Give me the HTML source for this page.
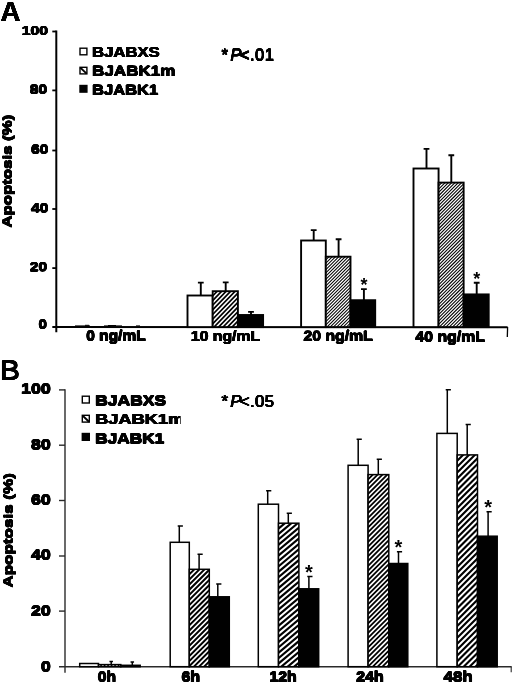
<!DOCTYPE html>
<html><head><meta charset="utf-8"><title>Figure</title>
<style>
html,body{margin:0;padding:0;background:#fff;}
body{width:520px;height:685px;overflow:hidden;}
svg{display:block;font-family:"Liberation Sans",sans-serif;}
text{fill:#000;}
</style></head><body>
<svg width="520" height="685" viewBox="0 0 520 685">
<defs>
</defs>
<rect width="520" height="685" fill="#fff"/>
<g opacity="0.999">

<g id="panelA">
<text id="t1" x="0.5" y="21.0" font-size="27.6" font-weight="bold" text-anchor="start" >A</text>
<use href="#t1" x="0.15" y="0.00"/>
<use href="#t1" x="0.11" y="0.11"/>
<use href="#t1" x="0.00" y="0.15"/>
<use href="#t1" x="-0.11" y="0.11"/>
<use href="#t1" x="-0.15" y="0.00"/>
<use href="#t1" x="-0.11" y="-0.11"/>
<use href="#t1" x="-0.00" y="-0.15"/>
<use href="#t1" x="0.11" y="-0.11"/>
<path d="M56.3 30.6V332.3" stroke="#000" stroke-width="2.0" fill="none"/>
<path d="M52.3 326.9L507.6 327.29999999999995" stroke="#000" stroke-width="2.0" fill="none"/>
<path d="M507.6 326.9L507.3 337" stroke="#000" stroke-width="1.3" fill="none"/>
<path d="M52.3 31.5H56.3" stroke="#000" stroke-width="1.8"/>
<text id="t2" x="21.7" y="35.1" font-size="13.2" font-weight="bold" text-anchor="start" textLength="26.4" lengthAdjust="spacingAndGlyphs" >100</text>
<use href="#t2" x="0.40" y="0.00"/>
<use href="#t2" x="0.28" y="0.28"/>
<use href="#t2" x="0.00" y="0.40"/>
<use href="#t2" x="-0.28" y="0.28"/>
<use href="#t2" x="-0.40" y="0.00"/>
<use href="#t2" x="-0.28" y="-0.28"/>
<use href="#t2" x="-0.00" y="-0.40"/>
<use href="#t2" x="0.28" y="-0.28"/>
<path d="M52.3 90.4H56.3" stroke="#000" stroke-width="1.8"/>
<text id="t3" x="29.8" y="93.7" font-size="13.2" font-weight="bold" text-anchor="start" textLength="17.4" lengthAdjust="spacingAndGlyphs" >80</text>
<use href="#t3" x="0.40" y="0.00"/>
<use href="#t3" x="0.28" y="0.28"/>
<use href="#t3" x="0.00" y="0.40"/>
<use href="#t3" x="-0.28" y="0.28"/>
<use href="#t3" x="-0.40" y="0.00"/>
<use href="#t3" x="-0.28" y="-0.28"/>
<use href="#t3" x="-0.00" y="-0.40"/>
<use href="#t3" x="0.28" y="-0.28"/>
<path d="M52.3 150.5H56.3" stroke="#000" stroke-width="1.8"/>
<text id="t4" x="31.0" y="153.6" font-size="13.2" font-weight="bold" text-anchor="start" textLength="17.4" lengthAdjust="spacingAndGlyphs" >60</text>
<use href="#t4" x="0.40" y="0.00"/>
<use href="#t4" x="0.28" y="0.28"/>
<use href="#t4" x="0.00" y="0.40"/>
<use href="#t4" x="-0.28" y="0.28"/>
<use href="#t4" x="-0.40" y="0.00"/>
<use href="#t4" x="-0.28" y="-0.28"/>
<use href="#t4" x="-0.00" y="-0.40"/>
<use href="#t4" x="0.28" y="-0.28"/>
<path d="M52.3 209.0H56.3" stroke="#000" stroke-width="1.8"/>
<text id="t5" x="31.0" y="212.4" font-size="13.2" font-weight="bold" text-anchor="start" textLength="17.4" lengthAdjust="spacingAndGlyphs" >40</text>
<use href="#t5" x="0.40" y="0.00"/>
<use href="#t5" x="0.28" y="0.28"/>
<use href="#t5" x="0.00" y="0.40"/>
<use href="#t5" x="-0.28" y="0.28"/>
<use href="#t5" x="-0.40" y="0.00"/>
<use href="#t5" x="-0.28" y="-0.28"/>
<use href="#t5" x="-0.00" y="-0.40"/>
<use href="#t5" x="0.28" y="-0.28"/>
<path d="M52.3 268.1H56.3" stroke="#000" stroke-width="1.8"/>
<text id="t6" x="29.8" y="271.2" font-size="13.2" font-weight="bold" text-anchor="start" textLength="17.4" lengthAdjust="spacingAndGlyphs" >20</text>
<use href="#t6" x="0.40" y="0.00"/>
<use href="#t6" x="0.28" y="0.28"/>
<use href="#t6" x="0.00" y="0.40"/>
<use href="#t6" x="-0.28" y="0.28"/>
<use href="#t6" x="-0.40" y="0.00"/>
<use href="#t6" x="-0.28" y="-0.28"/>
<use href="#t6" x="-0.00" y="-0.40"/>
<use href="#t6" x="0.28" y="-0.28"/>
<text id="t7" x="38.6" y="328.5" font-size="13.2" font-weight="bold" text-anchor="start" textLength="8.4" lengthAdjust="spacingAndGlyphs" >0</text>
<use href="#t7" x="0.40" y="0.00"/>
<use href="#t7" x="0.28" y="0.28"/>
<use href="#t7" x="0.00" y="0.40"/>
<use href="#t7" x="-0.28" y="0.28"/>
<use href="#t7" x="-0.40" y="0.00"/>
<use href="#t7" x="-0.28" y="-0.28"/>
<use href="#t7" x="-0.00" y="-0.40"/>
<use href="#t7" x="0.28" y="-0.28"/>
<g transform="translate(11.5,227.6) rotate(-90)">
<text id="t8" x="0" y="0" font-size="12.8" font-weight="bold" text-anchor="start" textLength="112.8" lengthAdjust="spacingAndGlyphs" >Apoptosis (%)</text>
<use href="#t8" x="0.42" y="0.00"/>
<use href="#t8" x="0.30" y="0.30"/>
<use href="#t8" x="0.00" y="0.42"/>
<use href="#t8" x="-0.30" y="0.30"/>
<use href="#t8" x="-0.42" y="0.00"/>
<use href="#t8" x="-0.30" y="-0.30"/>
<use href="#t8" x="-0.00" y="-0.42"/>
<use href="#t8" x="0.30" y="-0.30"/>
</g>
<text id="t9" x="92.1" y="57.0" font-size="14.8" font-weight="bold" text-anchor="start" textLength="67.6" lengthAdjust="spacingAndGlyphs" >BJABXS</text>
<use href="#t9" x="0.40" y="0.00"/>
<use href="#t9" x="0.28" y="0.28"/>
<use href="#t9" x="0.00" y="0.40"/>
<use href="#t9" x="-0.28" y="0.28"/>
<use href="#t9" x="-0.40" y="0.00"/>
<use href="#t9" x="-0.28" y="-0.28"/>
<use href="#t9" x="-0.00" y="-0.40"/>
<use href="#t9" x="0.28" y="-0.28"/>
<rect x="80.0" y="48.2" width="6.9" height="6.6" fill="#fff" stroke="#000" stroke-width="1.4"/>
<text id="t10" x="92.1" y="75.8" font-size="14.8" font-weight="bold" text-anchor="start" textLength="83.3" lengthAdjust="spacingAndGlyphs" >BJABK1m</text>
<use href="#t10" x="0.40" y="0.00"/>
<use href="#t10" x="0.28" y="0.28"/>
<use href="#t10" x="0.00" y="0.40"/>
<use href="#t10" x="-0.28" y="0.28"/>
<use href="#t10" x="-0.40" y="0.00"/>
<use href="#t10" x="-0.28" y="-0.28"/>
<use href="#t10" x="-0.00" y="-0.40"/>
<use href="#t10" x="0.28" y="-0.28"/>
<rect x="80.0" y="67.3" width="6.9" height="6.6" fill="#fff" stroke="#000" stroke-width="1.4"/>
<path d="M80.3 67.6L86.6 73.6" stroke="#000" stroke-width="2"/>
<text id="t11" x="92.1" y="94.8" font-size="14.8" font-weight="bold" text-anchor="start" textLength="66.1" lengthAdjust="spacingAndGlyphs" >BJABK1</text>
<use href="#t11" x="0.40" y="0.00"/>
<use href="#t11" x="0.28" y="0.28"/>
<use href="#t11" x="0.00" y="0.40"/>
<use href="#t11" x="-0.28" y="0.28"/>
<use href="#t11" x="-0.40" y="0.00"/>
<use href="#t11" x="-0.28" y="-0.28"/>
<use href="#t11" x="-0.00" y="-0.40"/>
<use href="#t11" x="0.28" y="-0.28"/>
<rect x="80.0" y="85.5" width="6.9" height="6.6" fill="#000" stroke="#000" stroke-width="1.4"/>
<text id="t12" x="221.6" y="60.7" font-size="16.6" font-weight="normal" text-anchor="start" >*<tspan dx="2.3" font-style="italic">P</tspan><tspan dx="-1.6" letter-spacing="0.45">&lt;.01</tspan></text>
<use href="#t12" x="0.33" y="0.00"/>
<use href="#t12" x="0.23" y="0.23"/>
<use href="#t12" x="0.00" y="0.33"/>
<use href="#t12" x="-0.23" y="0.23"/>
<use href="#t12" x="-0.33" y="0.00"/>
<use href="#t12" x="-0.23" y="-0.23"/>
<use href="#t12" x="-0.00" y="-0.33"/>
<use href="#t12" x="0.23" y="-0.23"/>
<path d="M200.8 295.5V282M197.90 282.6H203.70" stroke="#000" stroke-width="1.9" fill="none"/>
<rect x="187.5" y="295.5" width="25.20" height="31.60" fill="#fff" stroke="#000" stroke-width="1.9"/>
<path d="M225.7 291.2V281.8M222.80 282.40000000000003H228.60" stroke="#000" stroke-width="1.9" fill="none"/>
<clipPath id="c1"><rect x="212.7" y="291.2" width="25.20" height="35.90"/></clipPath>
<rect x="212.7" y="291.2" width="25.20" height="35.90" fill="#fff"/>
<path clip-path="url(#c1)" d="M211.70 292.24L238.90 264.07M211.70 296.90L238.90 268.73M211.70 301.56L238.90 273.39M211.70 306.22L238.90 278.05M211.70 310.88L238.90 282.71M211.70 315.54L238.90 287.37M211.70 320.20L238.90 292.03M211.70 324.86L238.90 296.69M211.70 329.52L238.90 301.35M211.70 334.18L238.90 306.01M211.70 338.84L238.90 310.67M211.70 343.50L238.90 315.33M211.70 348.16L238.90 319.99M211.70 352.82L238.90 324.65M211.70 357.48L238.90 329.31" stroke="#000" stroke-width="1.68" fill="none"/>
<rect x="212.7" y="291.2" width="25.20" height="35.90" fill="none" stroke="#000" stroke-width="1.9"/>
<path d="M251.0 315.0V311.3M248.10 311.90000000000003H253.90" stroke="#000" stroke-width="1.9" fill="none"/>
<rect x="237.9" y="315.0" width="25.20" height="12.10" fill="#000" stroke="#000" stroke-width="1.9"/>
<path d="M313.7 240.5V229.5M310.80 230.1H316.60" stroke="#000" stroke-width="1.9" fill="none"/>
<rect x="301.1" y="240.5" width="24.70" height="86.60" fill="#fff" stroke="#000" stroke-width="1.9"/>
<path d="M338.6 256.7V238.6M335.70 239.2H341.50" stroke="#000" stroke-width="1.9" fill="none"/>
<clipPath id="c2"><rect x="325.8" y="256.7" width="24.70" height="70.40"/></clipPath>
<rect x="325.8" y="256.7" width="24.70" height="70.40" fill="#fff"/>
<path clip-path="url(#c2)" d="M324.80 257.70L351.50 231.00M324.80 260.95L351.50 234.25M324.80 264.20L351.50 237.50M324.80 267.45L351.50 240.75M324.80 270.70L351.50 244.00M324.80 273.95L351.50 247.25M324.80 277.20L351.50 250.50M324.80 280.45L351.50 253.75M324.80 283.70L351.50 257.00M324.80 286.95L351.50 260.25M324.80 290.20L351.50 263.50M324.80 293.45L351.50 266.75M324.80 296.70L351.50 270.00M324.80 299.95L351.50 273.25M324.80 303.20L351.50 276.50M324.80 306.45L351.50 279.75M324.80 309.70L351.50 283.00M324.80 312.95L351.50 286.25M324.80 316.20L351.50 289.50M324.80 319.45L351.50 292.75M324.80 322.70L351.50 296.00M324.80 325.95L351.50 299.25M324.80 329.20L351.50 302.50M324.80 332.45L351.50 305.75M324.80 335.70L351.50 309.00M324.80 338.95L351.50 312.25M324.80 342.20L351.50 315.50M324.80 345.45L351.50 318.75M324.80 348.70L351.50 322.00M324.80 351.95L351.50 325.25M324.80 355.20L351.50 328.50" stroke="#000" stroke-width="1.06" fill="none"/>
<rect x="325.8" y="256.7" width="24.70" height="70.40" fill="none" stroke="#000" stroke-width="1.9"/>
<path d="M363.9 300.2V288.5M361.00 289.1H366.80" stroke="#000" stroke-width="1.9" fill="none"/>
<rect x="350.5" y="300.2" width="24.70" height="26.90" fill="#000" stroke="#000" stroke-width="1.9"/>
<text x="363.9" y="291.1" font-size="18" font-weight="bold" text-anchor="middle">*</text>
<path d="M426.5 168.5V148.3M423.60 148.9H429.40" stroke="#000" stroke-width="1.9" fill="none"/>
<rect x="413.5" y="168.5" width="25.07" height="158.60" fill="#fff" stroke="#000" stroke-width="1.9"/>
<path d="M451.3 182.6V154.6M448.40 155.2H454.20" stroke="#000" stroke-width="1.9" fill="none"/>
<clipPath id="c3"><rect x="438.57" y="182.6" width="25.07" height="144.50"/></clipPath>
<rect x="438.57" y="182.6" width="25.07" height="144.50" fill="#fff"/>
<path clip-path="url(#c3)" d="M437.57 183.60L464.64 156.53M437.57 186.90L464.64 159.83M437.57 190.20L464.64 163.13M437.57 193.50L464.64 166.43M437.57 196.80L464.64 169.73M437.57 200.10L464.64 173.03M437.57 203.40L464.64 176.33M437.57 206.70L464.64 179.63M437.57 210.00L464.64 182.93M437.57 213.30L464.64 186.23M437.57 216.60L464.64 189.53M437.57 219.90L464.64 192.83M437.57 223.20L464.64 196.13M437.57 226.50L464.64 199.43M437.57 229.80L464.64 202.73M437.57 233.10L464.64 206.03M437.57 236.40L464.64 209.33M437.57 239.70L464.64 212.63M437.57 243.00L464.64 215.93M437.57 246.30L464.64 219.23M437.57 249.60L464.64 222.53M437.57 252.90L464.64 225.83M437.57 256.20L464.64 229.13M437.57 259.50L464.64 232.43M437.57 262.80L464.64 235.73M437.57 266.10L464.64 239.03M437.57 269.40L464.64 242.33M437.57 272.70L464.64 245.63M437.57 276.00L464.64 248.93M437.57 279.30L464.64 252.23M437.57 282.60L464.64 255.53M437.57 285.90L464.64 258.83M437.57 289.20L464.64 262.13M437.57 292.50L464.64 265.43M437.57 295.80L464.64 268.73M437.57 299.10L464.64 272.03M437.57 302.40L464.64 275.33M437.57 305.70L464.64 278.63M437.57 309.00L464.64 281.93M437.57 312.30L464.64 285.23M437.57 315.60L464.64 288.53M437.57 318.90L464.64 291.83M437.57 322.20L464.64 295.13M437.57 325.50L464.64 298.43M437.57 328.80L464.64 301.73M437.57 332.10L464.64 305.03M437.57 335.40L464.64 308.33M437.57 338.70L464.64 311.63M437.57 342.00L464.64 314.93M437.57 345.30L464.64 318.23M437.57 348.60L464.64 321.53M437.57 351.90L464.64 324.83M437.57 355.20L464.64 328.13" stroke="#000" stroke-width="1.07" fill="none"/>
<rect x="438.57" y="182.6" width="25.07" height="144.50" fill="none" stroke="#000" stroke-width="1.9"/>
<path d="M476.7 294.4V282.2M473.80 282.8H479.60" stroke="#000" stroke-width="1.9" fill="none"/>
<rect x="463.64" y="294.4" width="25.07" height="32.70" fill="#000" stroke="#000" stroke-width="1.9"/>
<text x="476.7" y="284.8" font-size="18" font-weight="bold" text-anchor="middle">*</text>
<path d="M75 325.9H90M85 325.29999999999995H89M108 325.5H116M104 325.9H122M136 325.9H140" stroke="#000" stroke-width="1"/>
<text id="t13" x="86.19999999999999" y="340.5" font-size="14.2" font-weight="bold" text-anchor="start" textLength="59.5" lengthAdjust="spacingAndGlyphs" >0 ng/mL</text>
<use href="#t13" x="0.40" y="0.00"/>
<use href="#t13" x="0.28" y="0.28"/>
<use href="#t13" x="0.00" y="0.40"/>
<use href="#t13" x="-0.28" y="0.28"/>
<use href="#t13" x="-0.40" y="0.00"/>
<use href="#t13" x="-0.28" y="-0.28"/>
<use href="#t13" x="-0.00" y="-0.40"/>
<use href="#t13" x="0.28" y="-0.28"/>
<text id="t14" x="190.9" y="341.1" font-size="14.2" font-weight="bold" text-anchor="start" textLength="69.2" lengthAdjust="spacingAndGlyphs" >10 ng/mL</text>
<use href="#t14" x="0.40" y="0.00"/>
<use href="#t14" x="0.28" y="0.28"/>
<use href="#t14" x="0.00" y="0.40"/>
<use href="#t14" x="-0.28" y="0.28"/>
<use href="#t14" x="-0.40" y="0.00"/>
<use href="#t14" x="-0.28" y="-0.28"/>
<use href="#t14" x="-0.00" y="-0.40"/>
<use href="#t14" x="0.28" y="-0.28"/>
<text id="t15" x="303.5" y="340.8" font-size="14.2" font-weight="bold" text-anchor="start" textLength="69.3" lengthAdjust="spacingAndGlyphs" >20 ng/mL</text>
<use href="#t15" x="0.40" y="0.00"/>
<use href="#t15" x="0.28" y="0.28"/>
<use href="#t15" x="0.00" y="0.40"/>
<use href="#t15" x="-0.28" y="0.28"/>
<use href="#t15" x="-0.40" y="0.00"/>
<use href="#t15" x="-0.28" y="-0.28"/>
<use href="#t15" x="-0.00" y="-0.40"/>
<use href="#t15" x="0.28" y="-0.28"/>
<text id="t16" x="415.40000000000003" y="341.6" font-size="14.2" font-weight="bold" text-anchor="start" textLength="69.6" lengthAdjust="spacingAndGlyphs" >40 ng/mL</text>
<use href="#t16" x="0.40" y="0.00"/>
<use href="#t16" x="0.28" y="0.28"/>
<use href="#t16" x="0.00" y="0.40"/>
<use href="#t16" x="-0.28" y="0.28"/>
<use href="#t16" x="-0.40" y="0.00"/>
<use href="#t16" x="-0.28" y="-0.28"/>
<use href="#t16" x="-0.00" y="-0.40"/>
<use href="#t16" x="0.28" y="-0.28"/>
</g>
<g id="panelB">
<text id="t17" x="0.0" y="379.7" font-size="27.4" font-weight="normal" text-anchor="start" textLength="19.9" lengthAdjust="spacingAndGlyphs" >B</text>
<use href="#t17" x="0.40" y="0.00"/>
<use href="#t17" x="0.28" y="0.28"/>
<use href="#t17" x="0.00" y="0.40"/>
<use href="#t17" x="-0.28" y="0.28"/>
<use href="#t17" x="-0.40" y="0.00"/>
<use href="#t17" x="-0.28" y="-0.28"/>
<use href="#t17" x="-0.00" y="-0.40"/>
<use href="#t17" x="0.28" y="-0.28"/>
<path d="M65.0 389.3V672.7" stroke="#2a2a2a" stroke-width="1.4" fill="none"/>
<path d="M59 666.7H511.7" stroke="#2a2a2a" stroke-width="1.4" fill="none"/>
<path d="M511.2 666.7V672.3" stroke="#2a2a2a" stroke-width="1.1" fill="none"/>
<path d="M59 389.9H65.0" stroke="#2a2a2a" stroke-width="1.4"/>
<text id="t18" x="21.1" y="393.5" font-size="14" font-weight="bold" text-anchor="start" textLength="29.6" lengthAdjust="spacingAndGlyphs" >100</text>
<use href="#t18" x="0.45" y="0.00"/>
<use href="#t18" x="0.32" y="0.32"/>
<use href="#t18" x="0.00" y="0.45"/>
<use href="#t18" x="-0.32" y="0.32"/>
<use href="#t18" x="-0.45" y="0.00"/>
<use href="#t18" x="-0.32" y="-0.32"/>
<use href="#t18" x="-0.00" y="-0.45"/>
<use href="#t18" x="0.32" y="-0.32"/>
<path d="M59 445.2H65.0" stroke="#2a2a2a" stroke-width="1.4"/>
<text id="t19" x="31.0" y="449.3" font-size="14" font-weight="bold" text-anchor="start" textLength="19.7" lengthAdjust="spacingAndGlyphs" >80</text>
<use href="#t19" x="0.45" y="0.00"/>
<use href="#t19" x="0.32" y="0.32"/>
<use href="#t19" x="0.00" y="0.45"/>
<use href="#t19" x="-0.32" y="0.32"/>
<use href="#t19" x="-0.45" y="0.00"/>
<use href="#t19" x="-0.32" y="-0.32"/>
<use href="#t19" x="-0.00" y="-0.45"/>
<use href="#t19" x="0.32" y="-0.32"/>
<path d="M59 500.5H65.0" stroke="#2a2a2a" stroke-width="1.4"/>
<text id="t20" x="31.0" y="504.7" font-size="14" font-weight="bold" text-anchor="start" textLength="19.7" lengthAdjust="spacingAndGlyphs" >60</text>
<use href="#t20" x="0.45" y="0.00"/>
<use href="#t20" x="0.32" y="0.32"/>
<use href="#t20" x="0.00" y="0.45"/>
<use href="#t20" x="-0.32" y="0.32"/>
<use href="#t20" x="-0.45" y="0.00"/>
<use href="#t20" x="-0.32" y="-0.32"/>
<use href="#t20" x="-0.00" y="-0.45"/>
<use href="#t20" x="0.32" y="-0.32"/>
<path d="M59 556.0H65.0" stroke="#2a2a2a" stroke-width="1.4"/>
<text id="t21" x="31.0" y="559.7" font-size="14" font-weight="bold" text-anchor="start" textLength="19.7" lengthAdjust="spacingAndGlyphs" >40</text>
<use href="#t21" x="0.45" y="0.00"/>
<use href="#t21" x="0.32" y="0.32"/>
<use href="#t21" x="0.00" y="0.45"/>
<use href="#t21" x="-0.32" y="0.32"/>
<use href="#t21" x="-0.45" y="0.00"/>
<use href="#t21" x="-0.32" y="-0.32"/>
<use href="#t21" x="-0.00" y="-0.45"/>
<use href="#t21" x="0.32" y="-0.32"/>
<path d="M59 611.1H65.0" stroke="#2a2a2a" stroke-width="1.4"/>
<text id="t22" x="31.0" y="615.6" font-size="14" font-weight="bold" text-anchor="start" textLength="19.7" lengthAdjust="spacingAndGlyphs" >20</text>
<use href="#t22" x="0.45" y="0.00"/>
<use href="#t22" x="0.32" y="0.32"/>
<use href="#t22" x="0.00" y="0.45"/>
<use href="#t22" x="-0.32" y="0.32"/>
<use href="#t22" x="-0.45" y="0.00"/>
<use href="#t22" x="-0.32" y="-0.32"/>
<use href="#t22" x="-0.00" y="-0.45"/>
<use href="#t22" x="0.32" y="-0.32"/>
<text id="t23" x="40.9" y="671.3" font-size="14" font-weight="bold" text-anchor="start" textLength="9.8" lengthAdjust="spacingAndGlyphs" >0</text>
<use href="#t23" x="0.45" y="0.00"/>
<use href="#t23" x="0.32" y="0.32"/>
<use href="#t23" x="0.00" y="0.45"/>
<use href="#t23" x="-0.32" y="0.32"/>
<use href="#t23" x="-0.45" y="0.00"/>
<use href="#t23" x="-0.32" y="-0.32"/>
<use href="#t23" x="-0.00" y="-0.45"/>
<use href="#t23" x="0.32" y="-0.32"/>
<g transform="translate(12.5,587.6) rotate(-90)">
<text id="t24" x="0" y="0" font-size="13.6" font-weight="bold" text-anchor="start" textLength="114.4" lengthAdjust="spacingAndGlyphs" >Apoptosis (%)</text>
<use href="#t24" x="0.38" y="0.00"/>
<use href="#t24" x="0.27" y="0.27"/>
<use href="#t24" x="0.00" y="0.38"/>
<use href="#t24" x="-0.27" y="0.27"/>
<use href="#t24" x="-0.38" y="0.00"/>
<use href="#t24" x="-0.27" y="-0.27"/>
<use href="#t24" x="-0.00" y="-0.38"/>
<use href="#t24" x="0.27" y="-0.27"/>
</g>
<text id="t25" x="95.1" y="405.4" font-size="15.4" font-weight="bold" text-anchor="start" textLength="71.0" lengthAdjust="spacingAndGlyphs" >BJABXS</text>
<use href="#t25" x="0.45" y="0.00"/>
<use href="#t25" x="0.32" y="0.32"/>
<use href="#t25" x="0.00" y="0.45"/>
<use href="#t25" x="-0.32" y="0.32"/>
<use href="#t25" x="-0.45" y="0.00"/>
<use href="#t25" x="-0.32" y="-0.32"/>
<use href="#t25" x="-0.00" y="-0.45"/>
<use href="#t25" x="0.32" y="-0.32"/>
<rect x="82.3" y="396.2" width="7.0" height="6.8" fill="#fff" stroke="#000" stroke-width="1.4"/>
<text id="t26" x="95.1" y="424.0" font-size="15.4" font-weight="bold" text-anchor="start" textLength="89.19999999999999" lengthAdjust="spacingAndGlyphs" >BJABK1m</text>
<use href="#t26" x="0.45" y="0.00"/>
<use href="#t26" x="0.32" y="0.32"/>
<use href="#t26" x="0.00" y="0.45"/>
<use href="#t26" x="-0.32" y="0.32"/>
<use href="#t26" x="-0.45" y="0.00"/>
<use href="#t26" x="-0.32" y="-0.32"/>
<use href="#t26" x="-0.00" y="-0.45"/>
<use href="#t26" x="0.32" y="-0.32"/>
<rect x="180.7" y="408" width="8" height="20" fill="#fff"/>
<rect x="82.3" y="415.3" width="7.0" height="6.8" fill="#fff" stroke="#000" stroke-width="1.4"/>
<path d="M82.6 415.6L89 421.8" stroke="#000" stroke-width="2"/>
<text id="t27" x="95.1" y="443.2" font-size="15.4" font-weight="bold" text-anchor="start" textLength="69.19999999999999" lengthAdjust="spacingAndGlyphs" >BJABK1</text>
<use href="#t27" x="0.45" y="0.00"/>
<use href="#t27" x="0.32" y="0.32"/>
<use href="#t27" x="0.00" y="0.45"/>
<use href="#t27" x="-0.32" y="0.32"/>
<use href="#t27" x="-0.45" y="0.00"/>
<use href="#t27" x="-0.32" y="-0.32"/>
<use href="#t27" x="-0.00" y="-0.45"/>
<use href="#t27" x="0.32" y="-0.32"/>
<rect x="82.3" y="433.5" width="7.0" height="6.8" fill="#000" stroke="#000" stroke-width="1.4"/>
<text id="t28" x="221.6" y="407" font-size="16.6" font-weight="normal" text-anchor="start" >*<tspan dx="2.3" font-style="italic">P</tspan><tspan dx="-1.6" letter-spacing="0.45">&lt;.05</tspan></text>
<use href="#t28" x="0.47" y="0.00"/>
<use href="#t28" x="0.34" y="0.34"/>
<use href="#t28" x="0.00" y="0.47"/>
<use href="#t28" x="-0.34" y="0.34"/>
<use href="#t28" x="-0.47" y="0.00"/>
<use href="#t28" x="-0.34" y="-0.34"/>
<use href="#t28" x="-0.00" y="-0.47"/>
<use href="#t28" x="0.34" y="-0.34"/>
<rect x="79.7" y="663.5" width="18.80" height="3.20" fill="#fff" stroke="#000" stroke-width="1.5"/>
<path d="M111.2 664.6V660.8M109.45 661.4H112.95" stroke="#000" stroke-width="1.5" fill="none"/>
<clipPath id="c4"><rect x="98.5" y="664.6" width="22.30" height="2.10"/></clipPath>
<rect x="98.5" y="664.6" width="22.30" height="2.10" fill="#fff"/>
<path clip-path="url(#c4)" d="M97.50 665.60L121.80 641.30M97.50 669.10L121.80 644.80M97.50 672.60L121.80 648.30M97.50 676.10L121.80 651.80M97.50 679.60L121.80 655.30M97.50 683.10L121.80 658.80M97.50 686.60L121.80 662.30M97.50 690.10L121.80 665.80" stroke="#000" stroke-width="1.24" fill="none"/>
<rect x="98.5" y="664.6" width="22.30" height="2.10" fill="none" stroke="#000" stroke-width="1.5"/>
<path d="M132.3 665.3V661.5M130.55 662.1H134.05" stroke="#000" stroke-width="1.5" fill="none"/>
<rect x="120.8" y="665.3" width="19.40" height="1.40" fill="#000" stroke="#000" stroke-width="1.5"/>
<path d="M179.3 542.3V525.5M177.70 526.1H182.90" stroke="#000" stroke-width="1.5" fill="none"/>
<rect x="170.2" y="542.3" width="19.10" height="124.40" fill="#fff" stroke="#000" stroke-width="1.5"/>
<path d="M199.1 569.3V553.6M197.50 554.2H202.70" stroke="#000" stroke-width="1.5" fill="none"/>
<clipPath id="c5"><rect x="189.3" y="569.3" width="20.00" height="97.40"/></clipPath>
<rect x="189.3" y="569.3" width="20.00" height="97.40" fill="#fff"/>
<path clip-path="url(#c5)" d="M188.30 570.30L210.30 548.30M188.30 575.40L210.30 553.40M188.30 580.50L210.30 558.50M188.30 585.60L210.30 563.60M188.30 590.70L210.30 568.70M188.30 595.80L210.30 573.80M188.30 600.90L210.30 578.90M188.30 606.00L210.30 584.00M188.30 611.10L210.30 589.10M188.30 616.20L210.30 594.20M188.30 621.30L210.30 599.30M188.30 626.40L210.30 604.40M188.30 631.50L210.30 609.50M188.30 636.60L210.30 614.60M188.30 641.70L210.30 619.70M188.30 646.80L210.30 624.80M188.30 651.90L210.30 629.90M188.30 657.00L210.30 635.00M188.30 662.10L210.30 640.10M188.30 667.20L210.30 645.20M188.30 672.30L210.30 650.30M188.30 677.40L210.30 655.40M188.30 682.50L210.30 660.50M188.30 687.60L210.30 665.60M188.30 692.70L210.30 670.70" stroke="#000" stroke-width="1.95" fill="none"/>
<rect x="189.3" y="569.3" width="20.00" height="97.40" fill="none" stroke="#000" stroke-width="1.5"/>
<path d="M217.8 596.8V583.3M216.20 583.9H221.40" stroke="#000" stroke-width="1.5" fill="none"/>
<rect x="209.3" y="596.8" width="20.00" height="69.90" fill="#000" stroke="#000" stroke-width="1.5"/>
<path d="M267.7 504.2V490.1M266.10 490.70000000000005H271.30" stroke="#000" stroke-width="1.5" fill="none"/>
<rect x="258.3" y="504.2" width="20.20" height="162.50" fill="#fff" stroke="#000" stroke-width="1.5"/>
<path d="M288.3 523.2V512.6M286.70 513.2H291.90" stroke="#000" stroke-width="1.5" fill="none"/>
<clipPath id="c6"><rect x="278.5" y="523.2" width="20.40" height="143.50"/></clipPath>
<rect x="278.5" y="523.2" width="20.40" height="143.50" fill="#fff"/>
<path clip-path="url(#c6)" d="M277.50 524.04L299.90 505.24M277.50 529.44L299.90 510.64M277.50 534.84L299.90 516.04M277.50 540.24L299.90 521.44M277.50 545.64L299.90 526.84M277.50 551.04L299.90 532.24M277.50 556.44L299.90 537.64M277.50 561.84L299.90 543.04M277.50 567.24L299.90 548.44M277.50 572.64L299.90 553.84M277.50 578.04L299.90 559.24M277.50 583.44L299.90 564.64M277.50 588.84L299.90 570.04M277.50 594.24L299.90 575.44M277.50 599.64L299.90 580.84M277.50 605.04L299.90 586.24M277.50 610.44L299.90 591.64M277.50 615.84L299.90 597.04M277.50 621.24L299.90 602.44M277.50 626.64L299.90 607.84M277.50 632.04L299.90 613.24M277.50 637.44L299.90 618.64M277.50 642.84L299.90 624.04M277.50 648.24L299.90 629.44M277.50 653.64L299.90 634.84M277.50 659.04L299.90 640.24M277.50 664.44L299.90 645.64M277.50 669.84L299.90 651.04M277.50 675.24L299.90 656.44M277.50 680.64L299.90 661.84M277.50 686.04L299.90 667.24" stroke="#000" stroke-width="2.15" fill="none"/>
<rect x="278.5" y="523.2" width="20.40" height="143.50" fill="none" stroke="#000" stroke-width="1.5"/>
<path d="M308.9 588.8V575.8M307.30 576.4H312.50" stroke="#000" stroke-width="1.5" fill="none"/>
<rect x="298.9" y="588.8" width="19.80" height="77.90" fill="#000" stroke="#000" stroke-width="1.5"/>
<text x="308.9" y="578.8" font-size="20" font-weight="bold" text-anchor="middle">*</text>
<path d="M358.2 465.3V438.6M356.60 439.20000000000005H361.80" stroke="#000" stroke-width="1.5" fill="none"/>
<rect x="348.1" y="465.3" width="20.00" height="201.40" fill="#fff" stroke="#000" stroke-width="1.5"/>
<path d="M378.3 474.6V458.7M376.70 459.3H381.90" stroke="#000" stroke-width="1.5" fill="none"/>
<clipPath id="c7"><rect x="368.1" y="474.6" width="20.70" height="192.10"/></clipPath>
<rect x="368.1" y="474.6" width="20.70" height="192.10" fill="#fff"/>
<path clip-path="url(#c7)" d="M367.10 475.60L389.80 452.90M367.10 480.40L389.80 457.70M367.10 485.20L389.80 462.50M367.10 490.00L389.80 467.30M367.10 494.80L389.80 472.10M367.10 499.60L389.80 476.90M367.10 504.40L389.80 481.70M367.10 509.20L389.80 486.50M367.10 514.00L389.80 491.30M367.10 518.80L389.80 496.10M367.10 523.60L389.80 500.90M367.10 528.40L389.80 505.70M367.10 533.20L389.80 510.50M367.10 538.00L389.80 515.30M367.10 542.80L389.80 520.10M367.10 547.60L389.80 524.90M367.10 552.40L389.80 529.70M367.10 557.20L389.80 534.50M367.10 562.00L389.80 539.30M367.10 566.80L389.80 544.10M367.10 571.60L389.80 548.90M367.10 576.40L389.80 553.70M367.10 581.20L389.80 558.50M367.10 586.00L389.80 563.30M367.10 590.80L389.80 568.10M367.10 595.60L389.80 572.90M367.10 600.40L389.80 577.70M367.10 605.20L389.80 582.50M367.10 610.00L389.80 587.30M367.10 614.80L389.80 592.10M367.10 619.60L389.80 596.90M367.10 624.40L389.80 601.70M367.10 629.20L389.80 606.50M367.10 634.00L389.80 611.30M367.10 638.80L389.80 616.10M367.10 643.60L389.80 620.90M367.10 648.40L389.80 625.70M367.10 653.20L389.80 630.50M367.10 658.00L389.80 635.30M367.10 662.80L389.80 640.10M367.10 667.60L389.80 644.90M367.10 672.40L389.80 649.70M367.10 677.20L389.80 654.50M367.10 682.00L389.80 659.30M367.10 686.80L389.80 664.10M367.10 691.60L389.80 668.90" stroke="#000" stroke-width="1.76" fill="none"/>
<rect x="368.1" y="474.6" width="20.70" height="192.10" fill="none" stroke="#000" stroke-width="1.5"/>
<path d="M398.5 563.5V551.2M396.90 551.8000000000001H402.10" stroke="#000" stroke-width="1.5" fill="none"/>
<rect x="388.8" y="563.5" width="19.00" height="103.20" fill="#000" stroke="#000" stroke-width="1.5"/>
<text x="398.5" y="554.2" font-size="20" font-weight="bold" text-anchor="middle">*</text>
<path d="M447.3 433.4V389.2M445.70 389.8H450.90" stroke="#000" stroke-width="1.5" fill="none"/>
<rect x="436.9" y="433.4" width="20.30" height="233.30" fill="#fff" stroke="#000" stroke-width="1.5"/>
<path d="M467.2 454.9V424.0M465.60 424.6H470.80" stroke="#000" stroke-width="1.5" fill="none"/>
<clipPath id="c8"><rect x="457.2" y="454.9" width="20.30" height="211.80"/></clipPath>
<rect x="457.2" y="454.9" width="20.30" height="211.80" fill="#fff"/>
<path clip-path="url(#c8)" d="M456.20 455.90L478.50 433.60M456.20 461.80L478.50 439.50M456.20 467.70L478.50 445.40M456.20 473.60L478.50 451.30M456.20 479.50L478.50 457.20M456.20 485.40L478.50 463.10M456.20 491.30L478.50 469.00M456.20 497.20L478.50 474.90M456.20 503.10L478.50 480.80M456.20 509.00L478.50 486.70M456.20 514.90L478.50 492.60M456.20 520.80L478.50 498.50M456.20 526.70L478.50 504.40M456.20 532.60L478.50 510.30M456.20 538.50L478.50 516.20M456.20 544.40L478.50 522.10M456.20 550.30L478.50 528.00M456.20 556.20L478.50 533.90M456.20 562.10L478.50 539.80M456.20 568.00L478.50 545.70M456.20 573.90L478.50 551.60M456.20 579.80L478.50 557.50M456.20 585.70L478.50 563.40M456.20 591.60L478.50 569.30M456.20 597.50L478.50 575.20M456.20 603.40L478.50 581.10M456.20 609.30L478.50 587.00M456.20 615.20L478.50 592.90M456.20 621.10L478.50 598.80M456.20 627.00L478.50 604.70M456.20 632.90L478.50 610.60M456.20 638.80L478.50 616.50M456.20 644.70L478.50 622.40M456.20 650.60L478.50 628.30M456.20 656.50L478.50 634.20M456.20 662.40L478.50 640.10M456.20 668.30L478.50 646.00M456.20 674.20L478.50 651.90M456.20 680.10L478.50 657.80M456.20 686.00L478.50 663.70M456.20 691.90L478.50 669.60" stroke="#000" stroke-width="2.09" fill="none"/>
<rect x="457.2" y="454.9" width="20.30" height="211.80" fill="none" stroke="#000" stroke-width="1.5"/>
<path d="M488.1 536.2V511.1M486.50 511.70000000000005H491.70" stroke="#000" stroke-width="1.5" fill="none"/>
<rect x="477.5" y="536.2" width="19.70" height="130.50" fill="#000" stroke="#000" stroke-width="1.5"/>
<text x="488.1" y="514.1" font-size="20" font-weight="bold" text-anchor="middle">*</text>
<text id="t29" x="97.80000000000001" y="681.7" font-size="13.8" font-weight="bold" text-anchor="start" textLength="18.2" lengthAdjust="spacingAndGlyphs" >0h</text>
<use href="#t29" x="0.45" y="0.00"/>
<use href="#t29" x="0.32" y="0.32"/>
<use href="#t29" x="0.00" y="0.45"/>
<use href="#t29" x="-0.32" y="0.32"/>
<use href="#t29" x="-0.45" y="0.00"/>
<use href="#t29" x="-0.32" y="-0.32"/>
<use href="#t29" x="-0.00" y="-0.45"/>
<use href="#t29" x="0.32" y="-0.32"/>
<text id="t30" x="181.5" y="681.7" font-size="13.8" font-weight="bold" text-anchor="start" textLength="18.5" lengthAdjust="spacingAndGlyphs" >6h</text>
<use href="#t30" x="0.45" y="0.00"/>
<use href="#t30" x="0.32" y="0.32"/>
<use href="#t30" x="0.00" y="0.45"/>
<use href="#t30" x="-0.32" y="0.32"/>
<use href="#t30" x="-0.45" y="0.00"/>
<use href="#t30" x="-0.32" y="-0.32"/>
<use href="#t30" x="-0.00" y="-0.45"/>
<use href="#t30" x="0.32" y="-0.32"/>
<text id="t31" x="269.4" y="681.7" font-size="13.8" font-weight="bold" text-anchor="start" textLength="27.3" lengthAdjust="spacingAndGlyphs" >12h</text>
<use href="#t31" x="0.45" y="0.00"/>
<use href="#t31" x="0.32" y="0.32"/>
<use href="#t31" x="0.00" y="0.45"/>
<use href="#t31" x="-0.32" y="0.32"/>
<use href="#t31" x="-0.45" y="0.00"/>
<use href="#t31" x="-0.32" y="-0.32"/>
<use href="#t31" x="-0.00" y="-0.45"/>
<use href="#t31" x="0.32" y="-0.32"/>
<text id="t32" x="356.2" y="681.7" font-size="13.8" font-weight="bold" text-anchor="start" textLength="27.5" lengthAdjust="spacingAndGlyphs" >24h</text>
<use href="#t32" x="0.45" y="0.00"/>
<use href="#t32" x="0.32" y="0.32"/>
<use href="#t32" x="0.00" y="0.45"/>
<use href="#t32" x="-0.32" y="0.32"/>
<use href="#t32" x="-0.45" y="0.00"/>
<use href="#t32" x="-0.32" y="-0.32"/>
<use href="#t32" x="-0.00" y="-0.45"/>
<use href="#t32" x="0.32" y="-0.32"/>
<text id="t33" x="443.59999999999997" y="681.7" font-size="13.8" font-weight="bold" text-anchor="start" textLength="29.1" lengthAdjust="spacingAndGlyphs" >48h</text>
<use href="#t33" x="0.45" y="0.00"/>
<use href="#t33" x="0.32" y="0.32"/>
<use href="#t33" x="0.00" y="0.45"/>
<use href="#t33" x="-0.32" y="0.32"/>
<use href="#t33" x="-0.45" y="0.00"/>
<use href="#t33" x="-0.32" y="-0.32"/>
<use href="#t33" x="-0.00" y="-0.45"/>
<use href="#t33" x="0.32" y="-0.32"/>
</g>
</g></svg></body></html>
